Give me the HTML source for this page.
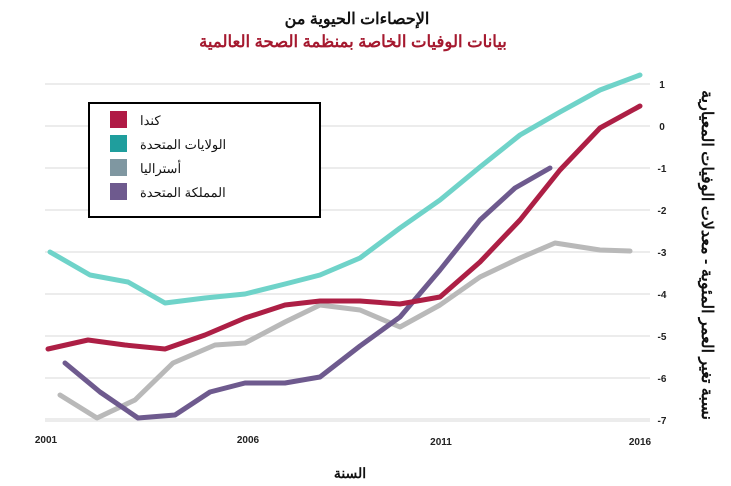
<!DOCTYPE html>
<html><head><meta charset="utf-8"><style>
html,body{margin:0;padding:0;background:#fff;}
svg{display:block;font-family:"Liberation Sans","Noto Sans CJK SC",sans-serif;}
</style></head><body>
<svg width="731" height="486" viewBox="0 0 731 486" xmlns="http://www.w3.org/2000/svg">
<rect width="731" height="486" fill="#fff"/>
<text x="357" y="24" text-anchor="middle" font-size="16" font-weight="bold" fill="#111">الإحصاءات الحيوية من</text>
<text x="353" y="47" text-anchor="middle" font-size="16.5" font-weight="bold" fill="#a5192f">بيانات الوفيات الخاصة بمنظمة الصحة العالمية</text>
<g stroke="#e6e6e6" stroke-width="1.5">
<line x1="45" y1="84" x2="650" y2="84"/><line x1="45" y1="126" x2="650" y2="126"/>
<line x1="45" y1="168" x2="650" y2="168"/><line x1="45" y1="210" x2="650" y2="210"/>
<line x1="45" y1="252" x2="650" y2="252"/><line x1="45" y1="294" x2="650" y2="294"/>
<line x1="45" y1="336" x2="650" y2="336"/><line x1="45" y1="378" x2="650" y2="378"/>
<line x1="45" y1="420" x2="650" y2="420" stroke-width="4" stroke="#ececec"/>
</g>
<g font-size="10" font-weight="bold" fill="#222" text-anchor="middle">
<text x="662" y="88">1</text><text x="662" y="130">0</text><text x="662" y="172">-1</text>
<text x="662" y="214">-2</text><text x="662" y="256">-3</text><text x="662" y="298">-4</text>
<text x="662" y="340">-5</text><text x="662" y="382">-6</text><text x="662" y="424">-7</text>
<text x="46" y="443">2001</text><text x="248" y="443">2006</text><text x="441" y="445">2011</text><text x="640" y="445">2016</text>
</g>
<text x="350" y="478" text-anchor="middle" font-size="14" font-weight="bold" fill="#111">السنة</text>
<text transform="translate(702,255) rotate(90)" text-anchor="middle" font-size="16" font-weight="bold" fill="#111">نسبة تغير العمر المئوية - معدلات الوفيات المعيارية</text>
<g fill="none" stroke-width="5" stroke-linejoin="round" stroke-linecap="round">
<polyline stroke="#6fd3c9" points="50,252 90,275 128,282 165,303 205,298 245,294 285,284 320,275 360,258 400,228 440,200 480,167 520,135 560,112 600,90 640,75"/>
<polyline stroke="#b9b9b9" points="60,395 97,418 135,400 173,363 215,345 245,343 285,322 320,305 360,310 400,327 440,305 480,277 520,258 555,243 600,250 630,251"/>
<polyline stroke="#6e5a8e" points="65,363 100,392 138,418 175,415 210,392 245,383 285,383 320,377 360,346 400,317 440,270 480,220 515,188 550,168"/>
<polyline stroke="#ad1f45" points="48,349 88,340 125,345 165,349 205,335 245,318 285,305 320,301 360,301 400,304 440,297 480,262 520,220 560,170 600,128 640,106"/>
</g>
<rect x="89" y="103" width="231" height="114" fill="#fff" stroke="#000" stroke-width="2"/>
<rect x="110" y="111" width="17" height="17" fill="#b01a45"/>
<rect x="110" y="135" width="17" height="17" fill="#1f9e9d"/>
<rect x="110" y="159" width="17" height="17" fill="#7f97a1"/>
<rect x="110" y="183" width="17" height="17" fill="#6e5a8e"/>
<g font-size="13" fill="#111" text-anchor="start">
<text x="140" y="125">كندا</text>
<text x="140" y="149">الولايات المتحدة</text>
<text x="140" y="173">أستراليا</text>
<text x="140" y="197">المملكة المتحدة</text>
</g>
</svg>
</body></html>
